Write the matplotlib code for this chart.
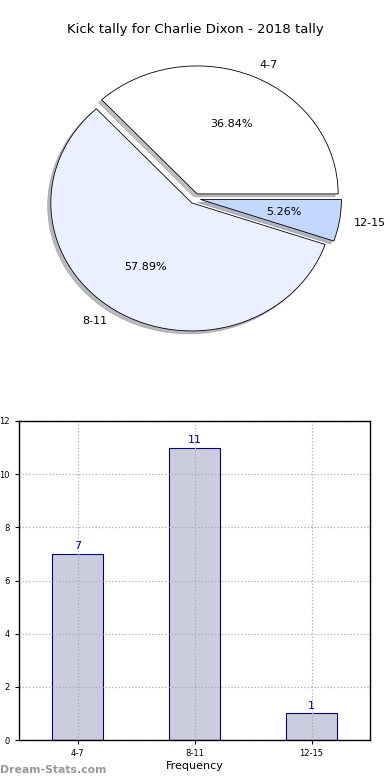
import matplotlib
matplotlib.use('Agg')
import matplotlib.pyplot as plt

# данные
labels = ['4-7', '8-11', '12-15']
counts = [7, 11, 1]
pie_colors = ['#ffffff', '#eaf0ff', '#c4d7ff']
explode = [0.04, 0.04, 0.04]

fig = plt.figure(figsize=(3.9, 7.8), dpi=100)

fig.text(0.5, 1 - 30 / 780, 'Kick tally for Charlie Dixon - 2018 tally',
         ha='center', va='center', fontsize=9.5)

# круговая диаграмма
ax1 = fig.add_axes([0.0478, 0.5402, 0.9038, 0.4103])
ax1.pie(counts, labels=labels, colors=pie_colors, explode=explode,
        autopct='%.2f%%', shadow={'ox': -0.016, 'oy': -0.016, 'shade': 0.5},
        startangle=0,
        wedgeprops={'edgecolor': 'black', 'linewidth': 0.6},
        textprops={'fontsize': 8})
ax1.set_aspect('auto')
ax1.set_xlim(-1.25, 1.25)
ax1.set_ylim(-1.25, 1.25)
ax1.axis('off')

# столбчатая диаграмма
ax2 = fig.add_axes([19 / 390, 40 / 780, 351 / 390, 319 / 780])
x = range(len(labels))
ax2.bar(x, counts, width=0.44, color='#ccccdf', edgecolor='#000080', linewidth=0.8)
for xi, c in zip(x, counts):
    ax2.text(xi, c + 0.1, str(c), ha='center', va='bottom', color='#000080', fontsize=8)
ax2.set_xlim(-0.5, 2.5)
ax2.set_ylim(0, 12)
ax2.set_xticks(list(x))
ax2.set_xticklabels(labels)
ax2.set_yticks(range(0, 13, 2))
ax2.tick_params(labelsize=6, length=3)
ax2.grid(True, linestyle=':', color='#aaaaaa', linewidth=0.9)
ax2.set_axisbelow(False)
for sp in ax2.spines.values():
    sp.set_zorder(5)
    sp.set_linewidth(1.0)
ax2.set_xlabel('Frequency', fontsize=8, labelpad=2)
ax2.set_ylabel('Distribution', fontsize=8)
ax2.yaxis.set_label_coords(-0.062, 0.5)

fig.text(0.0, 1 - 770 / 780, 'Dream-Stats.com', ha='left', va='center',
         fontsize=7.8, color='#999999', fontweight='bold')

plt.savefig('out.png', dpi=100)
